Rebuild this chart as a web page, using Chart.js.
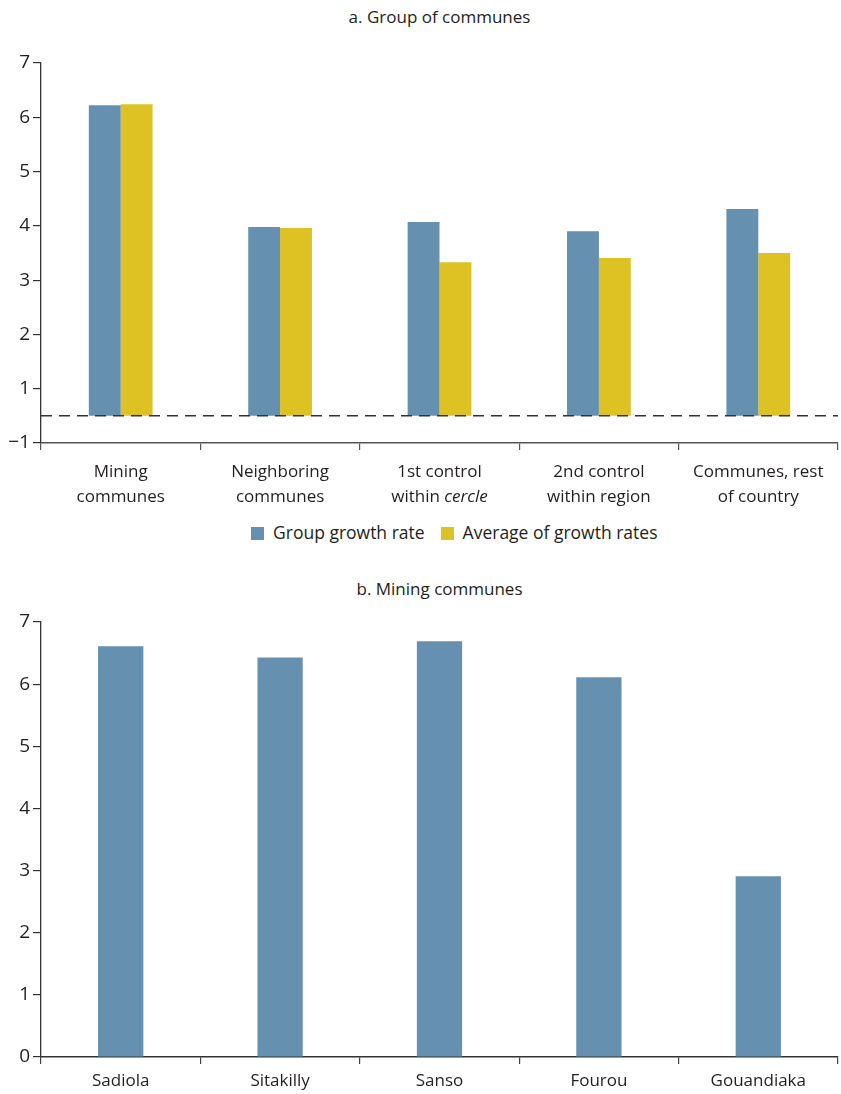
<!DOCTYPE html>
<html>
<head>
<meta charset="utf-8">
<script src="https://cdn.jsdelivr.net/npm/chart.js@4/dist/chart.umd.min.js"></script>
<style>
body{margin:0;background:#fff;font-family:"Open Sans",sans-serif;color:#231f20;}
#wrap{position:relative;width:841px;height:1094px;}
.ttl{position:absolute;left:41px;width:797px;text-align:center;font-size:17px;}
#legend{position:absolute;left:251px;top:520px;font-size:17.5px;white-space:nowrap;}
#legend span.sw{display:inline-block;width:13px;height:13px;vertical-align:-1px;margin-right:9px;}
#legend span.it{margin-right:16px;}
canvas{position:absolute;left:0;}
</style>
</head>
<body>
<div id="wrap">
  <div class="ttl" style="top:5px">a. Group of communes</div>
  <canvas id="chartA" width="841" height="473" style="top:40px"></canvas>
  <div id="legend">
    <span class="sw" style="background:#6690b0"></span><span class="it">Group growth rate</span><span class="sw" style="background:#dec224"></span><span>Average of growth rates</span>
  </div>
  <div class="ttl" style="top:577px">b. Mining communes</div>
  <canvas id="chartB" width="841" height="493" style="top:600px"></canvas>
</div>
<script>
// panel a
var groups=[["Mining","communes"],["Neighboring","communes"],["1st control","within _cercle_"],["2nd control","within region"],["Communes, rest","of country"]];
var groupRate=[6.22,3.98,4.07,3.90,4.31];
var avgRate=[6.24,3.96,3.33,3.41,3.50];
var yTicksA=[0,1,2,3,4,5,6,7];
var yLabelsA=["−1","1","2","3","4","5","6","7"];
var baseLine=0.5;

// panel b
var communes=["Sadiola","Sitakilly","Sanso","Fourou","Gouandiaka"];
var communeRate=[6.61,6.43,6.69,6.11,2.91];

var blue="#6690b0", yellow="#dec224", ink="#231f20";
var tickFont={family:"Open Sans",size:19};

// dashed reference line for panel a
var dashLine={
  id:"dashLine",
  afterDatasetsDraw:function(chart){
    var c=chart.ctx, a=chart.chartArea, y=chart.scales.y.getPixelForValue(baseLine);
    c.save();
    c.strokeStyle="#333";
    c.lineWidth=1.5;
    c.setLineDash([11,7]);
    c.beginPath();
    c.moveTo(a.left,y);c.lineTo(a.right,y);
    c.stroke();
    c.restore();
  }
};

// category labels with italic parts (_text_)
var groupLabels={
  id:"groupLabels",
  afterDraw:function(chart){
    var c=chart.ctx, xs=chart.scales.x, top=chart.chartArea.bottom+29;
    var norm="17px 'Open Sans'", ital="italic 17px 'Open Sans'";
    c.save();
    c.fillStyle=ink;
    c.textBaseline="middle";
    c.textAlign="left";
    groups.forEach(function(lines,i){
      var x=xs.getPixelForValue(i);
      lines.forEach(function(line,j){
        var parts=line.split("_"), w=0;
        parts.forEach(function(p,k){c.font=k%2?ital:norm;w+=c.measureText(p).width;});
        var px=x-w/2;
        parts.forEach(function(p,k){
          c.font=k%2?ital:norm;
          c.fillText(p,px,top+j*25);
          px+=c.measureText(p).width;
        });
      });
    });
    c.restore();
  }
};

new Chart(document.getElementById("chartA"),{
  type:"bar",
  data:{
    labels:groups.map(function(g){return g.join(" ").replace(/_/g,"");}),
    datasets:[
      {label:"Group growth rate",data:groupRate,backgroundColor:blue,base:baseLine},
      {label:"Average of growth rates",data:avgRate,backgroundColor:yellow,base:baseLine}
    ]
  },
  options:{
    responsive:false,
    animation:false,
    layout:{padding:{top:23,right:3,left:0,bottom:0}},
    datasets:{bar:{categoryPercentage:0.4,barPercentage:1.0}},
    plugins:{legend:{display:false},tooltip:{enabled:false}},
    scales:{
      x:{
        grid:{offset:true,drawOnChartArea:false,tickLength:7,color:"#555",lineWidth:1.2},
        border:{color:"#555",width:1.5},
        ticks:{color:"rgba(0,0,0,0)"},
        afterFit:function(s){s.height=70;}
      },
      y:{
        min:0,max:7,
        afterBuildTicks:function(s){s.ticks=yTicksA.map(function(v){return {value:v};});},
        grid:{drawOnChartArea:false,tickLength:8,color:"#333",lineWidth:1.2},
        border:{color:"#333",width:1.3},
        ticks:{color:ink,font:tickFont,padding:3,callback:function(v){return yLabelsA[yTicksA.indexOf(v)];}},
        afterFit:function(s){s.width=41;}
      }
    }
  },
  plugins:[dashLine,groupLabels]
});

new Chart(document.getElementById("chartB"),{
  type:"bar",
  data:{
    labels:communes,
    datasets:[{label:"Mining communes",data:communeRate,backgroundColor:blue}]
  },
  options:{
    responsive:false,
    animation:false,
    layout:{padding:{top:22,right:3,left:0,bottom:0}},
    datasets:{bar:{categoryPercentage:0.284,barPercentage:1.0}},
    plugins:{legend:{display:false},tooltip:{enabled:false}},
    scales:{
      x:{
        grid:{offset:true,drawOnChartArea:false,tickLength:7,color:"#444",lineWidth:1.2},
        border:{color:"#333",width:1.5},
        ticks:{color:ink,font:{family:"Open Sans",size:17},padding:7},
        afterFit:function(s){s.height=36;}
      },
      y:{
        min:0,max:7,
        grid:{drawOnChartArea:false,tickLength:8,color:"#333",lineWidth:1.2},
        border:{color:"#333",width:1.3},
        ticks:{stepSize:1,color:ink,font:tickFont,padding:3},
        afterFit:function(s){s.width=41;}
      }
    }
  }
});
</script>
</body>
</html>
